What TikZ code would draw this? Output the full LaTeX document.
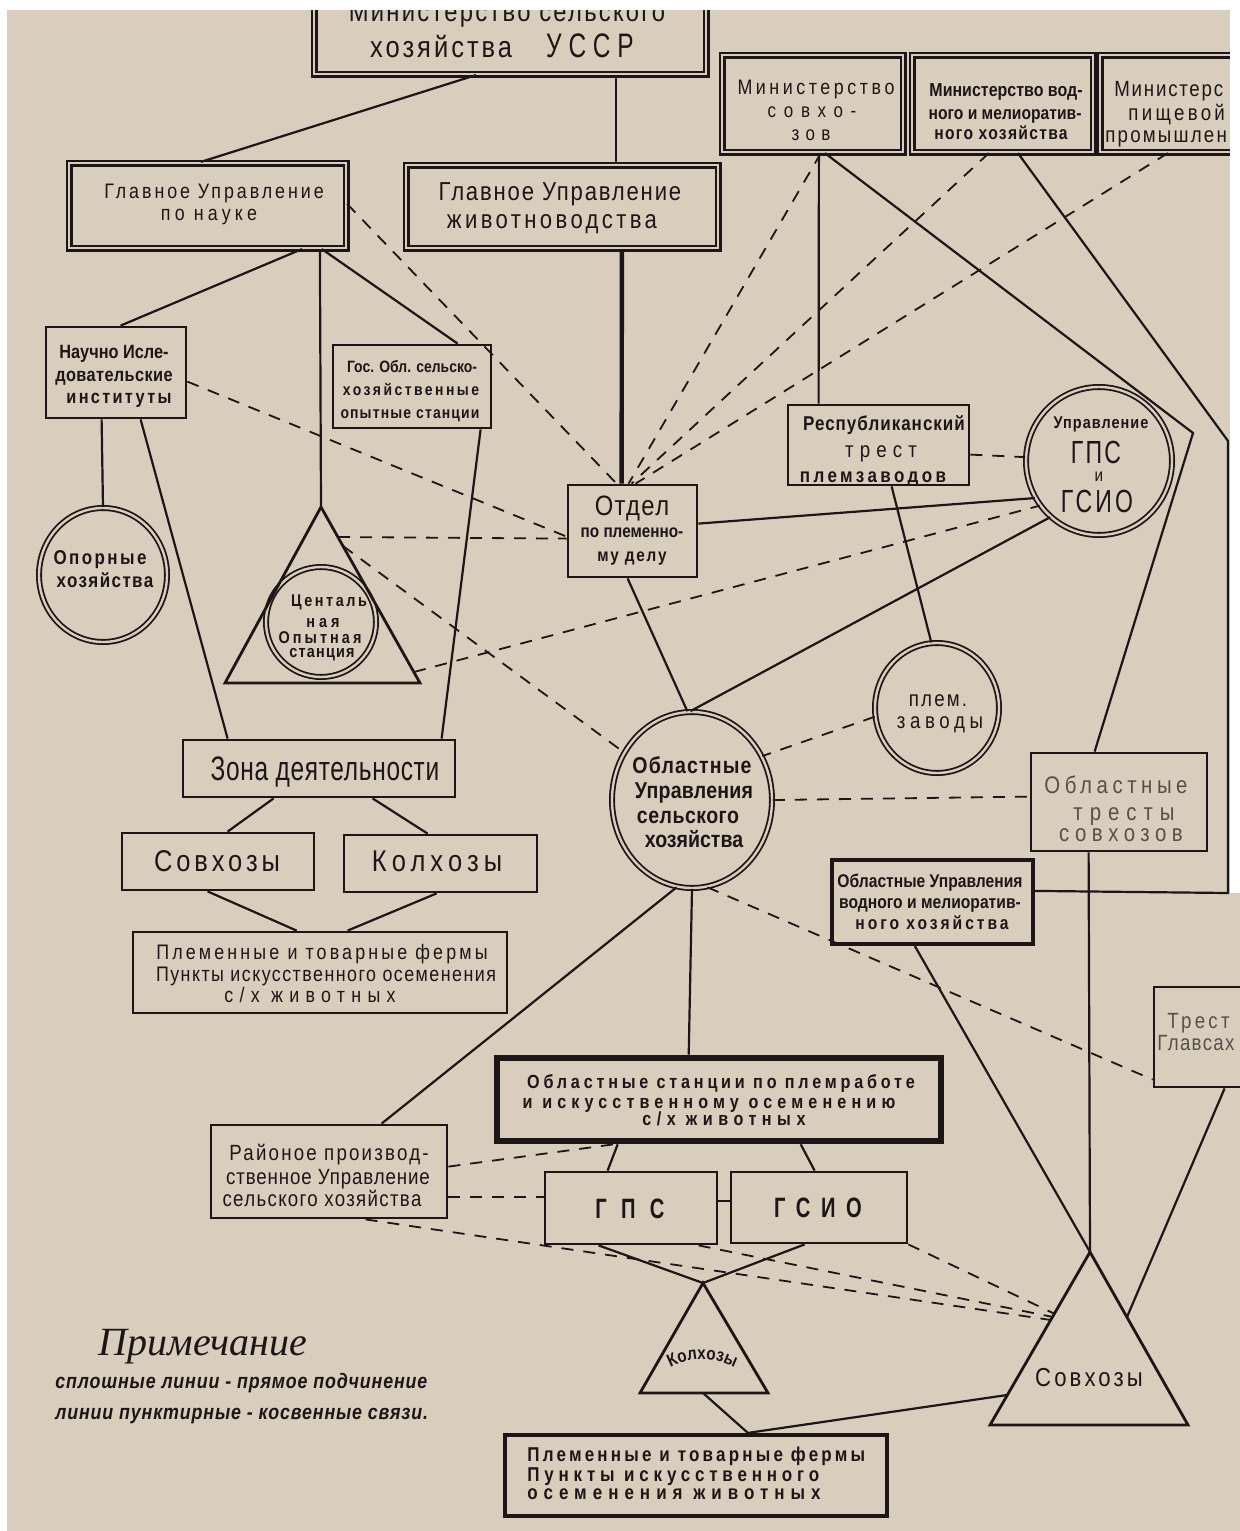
\documentclass[tikz,border=0pt]{standalone}
\usepackage{fontspec}
\setmainfont{Liberation Sans}[FakeStretch=0.85]
\newfontfamily\condf{Liberation Sans}[FakeStretch=0.72]
\newfontfamily\notefont{Liberation Serif}
\usetikzlibrary{shapes.geometric,decorations.text,calc}
\definecolor{bg}{HTML}{D9CDBE}
\definecolor{ink}{HTML}{1E1616}
\definecolor{greyink}{HTML}{55504B}
\newcommand\fsz[1]{\fontsize{#1}{#1}\selectfont}
\newcommand\lsp[1]{\addfontfeatures{LetterSpace=#1}}
\newcommand\mkbox[6][plainbox]{\node[#1, minimum width={(#5-#3)*0.5pt}, minimum height={(#6-#4)*0.5pt}] (#2) at ({(#3+#5)/2},{(#4+#6)/2}) {};}
\newcommand\mkell[5]{\node[dell, minimum width={#4*1pt}, minimum height={#5*1pt}] (#1) at (#2,#3) {};}
\newcommand\tl[4][]{\node[txt,anchor=base,#1] (#2) at (#3) {#4};}
\begin{document}
\begin{tikzpicture}[x=0.5pt,y=-0.5pt,
  plainbox/.style={draw=ink,line width=1.4pt,rectangle,inner sep=0pt},
  heavybox/.style={draw=ink,line width=3.3pt,rectangle,inner sep=0pt},
  midbox/.style={draw=ink,line width=2.1pt,rectangle,inner sep=0pt},
  dbox/.style={draw=ink,line width=1.1pt,double=bg,double distance=1.3pt,rectangle,inner sep=0pt},
  dell/.style={draw=ink,ellipse,line width=0.9pt,double=bg,double distance=1.2pt,inner sep=0pt},
  conn/.style={draw=ink,line width=1.1pt},
  thickconn/.style={draw=ink,line width=2.2pt},
  dsh/.style={draw=ink,line width=0.9pt,dash pattern=on 6pt off 5pt},
  tri/.style={draw=ink,line width=1.4pt,line join=miter},
  txt/.style={text=ink,align=center,inner sep=0pt},
  grey/.style={text=greyink}]
\useasboundingbox (0,0) rectangle (1240,1531);
\fill[bg] (0,0) rectangle (1240,1531);
\clip (0,0) rectangle (1240,1531);

% ---------- boxes ----------
\node[dbox, minimum width=196pt, minimum height=47pt] (minsh) at (510,27) {};
\mkbox[dbox]{guN}{69}{163}{346}{248}
\mkbox[dbox]{guZ}{406}{165}{718}{248}
\mkbox[dbox]{minS}{722}{55}{903}{152}
\mkbox[dbox]{minV}{912}{55}{1093}{152}
\mkbox[dbox]{minP}{1100}{55}{1270}{152}
\mkbox{nauch}{46}{327}{186}{418}
\mkbox{gos}{333}{345}{491}{428}
\mkbox{otd}{568}{485}{697}{577}
\mkbox{resp}{788}{405}{969}{485}
\mkbox{zona}{183}{740}{455}{797}
\mkbox{sovB}{122}{833}{314}{890}
\mkbox{kolB}{344}{835}{537}{892}
\mkbox{plemB}{133}{932}{507}{1013}
\mkbox{oblTr}{1031}{753}{1207}{851}
\mkbox[midbox]{oblV}{832}{860}{1033}{944}
\mkbox{trest}{1154}{987}{1280}{1087}
\mkbox[heavybox]{stan}{497}{1058}{941}{1141}
\mkbox{rai}{211}{1125}{447}{1218}
\mkbox{gps}{545}{1172}{717}{1244}
\mkbox{gsio}{731}{1172}{907}{1243}
\mkbox[midbox]{bot}{505}{1435}{887}{1516}

% ---------- ellipses ----------
\mkell{ugps}{1099}{461}{73}{74}
\mkell{opor}{103}{575}{64}{67}
\mkell{cent}{321}{622}{55}{55}
\mkell{plz}{937}{708}{62}{65}
\mkell{obl}{692}{800}{80}{88}

% ---------- triangles ----------
\coordinate (tCa) at (321,507); \coordinate (tCl) at (225,683); \coordinate (tCb) at (420,683);
\coordinate (tCr1) at (338,537); \coordinate (tCr2) at (343,546); \coordinate (tCr3) at (414,672);
\draw[tri] (tCa) -- (tCl) -- (tCb) -- cycle;
\coordinate (tKa) at (703,1283); \coordinate (tKl) at (640,1393); \coordinate (tKb) at (768,1393);
\coordinate (tKm) at (703,1393);
\draw[tri] (tKa) -- (tKl) -- (tKb) -- cycle;
\coordinate (tSa) at (1090,1252); \coordinate (tSl) at (990,1425); \coordinate (tSb) at (1188,1425);
\coordinate (tSj) at (1007,1395); \coordinate (tSr) at (1127,1317);
\coordinate (tSd1) at (1051,1320); \coordinate (tSd2) at (1053,1317); \coordinate (tSd3) at (1055,1314);
\draw[tri] (tSa) -- (tSl) -- (tSb) -- cycle;
\coordinate (cA) at (1193,433); \coordinate (cB) at (1228,441); \coordinate (cC) at (1228,893);

% ---------- solid connectors ----------
\draw[conn] ($(minsh.south west)+(163,0)$) -- ($(guN.north west)+(133,0)$);
\draw[conn] ($(minsh.south west)+(303,0)$) -- ($(guZ.north west)+(211,0)$);
\draw[conn] ($(guN.south west)+(234,0)$) -- ($(nauch.north west)+(76,0)$);
\draw[conn] ($(guN.south west)+(252,0)$) -- (tCa);
\draw[conn] ($(guN.south west)+(254,0)$) -- ($(gos.north west)+(126,0)$);
\draw[thickconn] ($(guZ.south west)+(217,0)$) -- ($(otd.north west)+(55,0)$);
\draw[conn] ($(nauch.south west)+(57,0)$) -- (opor.north);
\draw[conn] ($(nauch.south west)+(96,0)$) -- ($(zona.north west)+(46,0)$);
\draw[conn] ($(gos.south west)+(149,0)$) -- ($(zona.north west)+(260,0)$);
\draw[conn] ($(zona.south west)+(92,0)$) -- ($(sovB.north west)+(107,0)$);
\draw[conn] ($(zona.south west)+(191,0)$) -- ($(kolB.north west)+(85,0)$);
\draw[conn] ($(sovB.south west)+(87,0)$) -- ($(plemB.north west)+(165,0)$);
\draw[conn] ($(kolB.south west)+(94,0)$) -- ($(plemB.north west)+(216,0)$);
\draw[conn] ($(minS.south west)+(104,0)$) -- (cA) -- ($(oblTr.north west)+(65,0)$);
\draw[conn] ($(minS.south west)+(98,0)$) -- ($(resp.north west)+(32,0)$);
\draw[conn] ($(minV.south west)+(107,0)$) -- (cB) -- (cC) -- ($(oblV.north east)+(0,33)$);
\draw[conn] ($(resp.south west)+(105,0)$) -- (plz.95);
\draw[conn] (ugps.210) -- ($(otd.north east)+(0,40)$);
\draw[conn] (ugps.229) -- (obl.91);
\draw[conn] ($(otd.south west)+(61,0)$) -- (obl.93);
\draw[conn] (obl.-100) -- ($(rai.north west)+(172,0)$);
\draw[conn] (obl.south) -- ($(stan.north west)+(195,0)$);
\draw[conn] ($(stan.south west)+(124,0)$) -- ($(gps.north west)+(64,0)$);
\draw[conn] ($(stan.south west)+(307,0)$) -- ($(gsio.north west)+(85,0)$);
\draw[conn] ($(gps.north east)+(0,30)$) -- ($(gsio.north west)+(0,30)$);
\draw[conn] ($(gps.south west)+(55,0)$) -- (tKa);
\draw[conn] ($(gsio.south west)+(75,0)$) -- (tKa);
\draw[conn] (tKm) -- ($(bot.north west)+(245,0)$) -- (tSj);
\draw[conn] ($(oblV.south west)+(85,0)$) -- (tSa);
\draw[conn] ($(oblTr.south west)+(59,0)$) -- (tSa);
\draw[conn] ($(trest.south west)+(72,0)$) -- (tSr);

% ---------- dashed connectors ----------
\draw[dsh] ($(guN.north east)+(0,42)$) -- ($(otd.north west)+(50,0)$);
\draw[dsh] ($(nauch.north east)+(0,56)$) -- ($(otd.north west)+(0,53)$);
\draw[dsh] (tCr1) -- ($(otd.north west)+(0,55)$);
\draw[dsh] (tCr2) -- (obl.145);
\draw[dsh] (tCr3) -- (ugps.217);
\draw[dsh] ($(resp.north east)+(0,51)$) -- (ugps.177);
\draw[dsh] (plz.188) -- (obl.32);
\draw[dsh] (obl.east) -- ($(oblTr.north west)+(0,45)$);
\draw[dsh] (obl.-80) -- ($(trest.north west)+(0,94)$);
\draw[dsh] ($(rai.north east)+(0,43)$) -- ($(stan.south west)+(120,0)$);
\draw[dsh] ($(rai.north east)+(0,73)$) -- ($(gps.north west)+(0,26)$);
\draw[dsh] ($(rai.south west)+(156,0)$) -- (tSd1);
\draw[dsh] ($(gps.south west)+(155,0)$) -- (tSd2);
\draw[dsh] (gsio.south east) -- (tSd3);
\draw[dsh] ($(minS.south west)+(100,0)$) -- ($(otd.north west)+(62,0)$);
\draw[dsh] ($(minV.south west)+(78,0)$) -- ($(otd.north west)+(65,0)$);
\draw[dsh] ($(minP.south west)+(69,0)$) -- ($(otd.north west)+(69,0)$);

% ---------- texts (one node per printed line, anchored at its baseline) ----------
\tl[font=\fsz{14}\lsp{8}]{minshA}{507,21}{Министерство сельского}
\tl[font=\fsz{15}]{minshB}{502,57}{{\lsp{10}хозяйства}\hspace{17pt}{\condf\fsz{17}\lsp{20}УССР}}
\tl[font=\fsz{10.5}\lsp{14}]{guNA}{214,198}{Главное Управление}
\tl[font=\fsz{10.5}\lsp{20}]{guNB}{209,220}{по науке}
\tl[font=\fsz{13}\lsp{7}]{guZA}{560,200}{Главное Управление}
\tl[font=\fsz{13}\lsp{13}]{guZB}{552,228}{животноводства}
\tl[font=\fsz{10.5}\lsp{17}]{minSA}{816,94}{Министерство}
\tl[font=\fsz{10}\lsp{38}]{minSB}{812,117}{совхо-}
\tl[font=\fsz{10}\lsp{32}]{minSC}{811,140}{зов}
\tl[font=\bfseries\fsz{9.4}]{minVA}{1006,96}{Министерство вод-}
\tl[font=\bfseries\fsz{9.2}]{minVB}{1005,119}{ного и мелиоратив-}
\tl[font=\bfseries\fsz{9.2}\lsp{7}]{minVC}{1001,139}{ного хозяйства}
\tl[anchor=base west,font=\fsz{11}\lsp{8}]{minPA}{1114,96}{Министерс}
\tl[anchor=base west,font=\fsz{11}\lsp{15}]{minPB}{1128,120}{пищевой}
\tl[anchor=base west,font=\fsz{11}\lsp{10}]{minPC}{1105,142}{промышлен}
\tl[font=\bfseries\fsz{9.6}]{nauchA}{114,358}{Научно Исле-}
\tl[font=\bfseries\fsz{9.6}\lsp{2}]{nauchB}{114,381}{довательские}
\tl[font=\bfseries\fsz{9.6}\lsp{12}]{nauchC}{119,403}{институты}
\tl[font=\bfseries\fsz{8.2}]{gosA}{412,372}{Гос. Обл. сельско-}
\tl[font=\bfseries\fsz{8.2}\lsp{15}]{gosB}{411,395}{хозяйственные}
\tl[font=\bfseries\fsz{8.2}\lsp{7}]{gosC}{410,418}{опытные станции}
\tl[font=\fsz{14}\lsp{5}]{otdA}{632,515}{Отдел}
\tl[font=\bfseries\fsz{9}]{otdB}{632,537}{по племенно-}
\tl[font=\bfseries\fsz{9}\lsp{10}]{otdC}{632,561}{му делу}
\tl[font=\bfseries\fsz{10}\lsp{5}]{respA}{884,430}{Республиканский}
\tl[font=\fsz{11}\lsp{28}]{respB}{881,457}{трест}
\tl[font=\bfseries\fsz{10}\lsp{17}]{respC}{873,482}{племзаводов}
\tl[font=\bfseries\fsz{8.5}\lsp{6}]{ugpsA}{1101,428}{Управление}
\tl[font=\condf\fsz{16}\lsp{7}]{ugpsB}{1096,463}{ГПС}
\tl[font=\fsz{9}]{ugpsC}{1099,481}{и}
\tl[font=\condf\fsz{16}\lsp{10}]{ugpsD}{1097,512}{ГСИО}
\tl[font=\bfseries\fsz{10}\lsp{12}]{oporA}{100,564}{Опорные}
\tl[font=\bfseries\fsz{10}\lsp{7}]{oporB}{105,587}{хозяйства}
\tl[font=\bfseries\fsz{8.5}\lsp{15}]{centA}{329,606}{Центаль}
\tl[font=\bfseries\fsz{8.5}\lsp{23}]{centB}{323,627}{ная}
\tl[font=\bfseries\fsz{8.5}\lsp{18}]{centC}{320,643}{Опытная}
\tl[font=\bfseries\fsz{8.5}\lsp{7}]{centD}{322,657}{станция}
\tl[font=\fsz{11}\lsp{10}]{plzA}{938,706}{плем.}
\tl[font=\fsz{11}\lsp{21}]{plzB}{940,728}{заводы}
\tl[font=\bfseries\fsz{11.5}\lsp{5}]{oblA}{692,773}{Областные}
\tl[font=\bfseries\fsz{11.5}\lsp{1}]{oblB}{694,798}{Управления}
\tl[font=\bfseries\fsz{11.5}\lsp{2}]{oblC}{688,823}{сельского}
\tl[font=\bfseries\fsz{11.5}]{oblD}{694,847}{хозяйства}
\tl[font=\condf\fsz{17}\lsp{2}]{zonaT}{325,780}{Зона деятельности}
\tl[font=\fsz{15}\lsp{13}]{sovT}{217,871}{Совхозы}
\tl[font=\fsz{15}\lsp{17}]{kolT}{437,871}{Колхозы}
\tl[font=\fsz{10.5}\lsp{15}]{plemA}{322,959}{Племенные и товарные фермы}
\tl[font=\fsz{10.5}\lsp{7}]{plemB2}{326,981}{Пункты искусственного осеменения}
\tl[font=\fsz{10.5}\lsp{30}]{plemC}{310,1002}{с/х животных}
\tl[grey,font=\fsz{12}\lsp{19}]{oblTrA}{1116,793}{Областные}
\tl[grey,font=\fsz{12}\lsp{29}]{oblTrB}{1124,820}{тресты}
\tl[grey,font=\fsz{12}\lsp{23}]{oblTrC}{1121,841}{совхозов}
\tl[font=\bfseries\fsz{9.2}]{oblVA}{930,887}{Областные Управления}
\tl[font=\bfseries\fsz{9.2}]{oblVB}{930,908}{водного и мелиоратив-}
\tl[font=\bfseries\fsz{9.2}\lsp{16}]{oblVC}{932,929}{ного хозяйства}
\tl[grey,anchor=base west,font=\fsz{11}\lsp{15}]{trestA}{1167,1028}{Трест}
\tl[grey,anchor=base west,font=\fsz{11}\lsp{6}]{trestB}{1157,1050}{Главсах}
\tl[font=\bfseries\fsz{9.5}\lsp{20}]{stanA}{721,1088}{Областные станции по племработе}
\tl[font=\bfseries\fsz{9.5}\lsp{27}]{stanB}{709,1108}{и искусственному осеменению}
\tl[font=\bfseries\fsz{9.5}\lsp{29}]{stanC}{724,1125}{с/х животных}
\tl[font=\fsz{11}\lsp{10}]{raiA}{329,1160}{Районое производ-}
\tl[font=\fsz{11}\lsp{4}]{raiB}{328,1184}{ственное Управление}
\tl[font=\fsz{11}\lsp{6}]{raiC}{322,1206}{сельского хозяйства}
\tl[font=\bfseries\condf\fsz{14}\lsp{51}]{gpsT}{630,1218}{ГПС}
\tl[font=\bfseries\condf\fsz{14}\lsp{38}]{gsioT}{818,1217}{ГСИО}
\path[decorate, decoration={text along path, text color=ink, text={|\bfseries\fsz{9}\lsp{35}|Колхозы}, text align=center}] (650,1388) .. controls (670,1350) and (735,1350) .. (755,1388);
\tl[font=\fsz{13}\lsp{12}]{tST}{1089,1386}{Совхозы}
\tl[anchor=base west,font=\bfseries\fsz{10}\lsp{16}]{botA}{527,1461}{Племенные и товарные фермы}
\tl[anchor=base west,font=\bfseries\fsz{10}\lsp{24}]{botB}{527,1481}{Пункты искусственного}
\tl[anchor=base west,font=\bfseries\fsz{10}\lsp{30}]{botC}{527,1499}{осеменения животных}
\tl[font=\notefont\itshape\fsz{20}]{noteT}{203,1355}{Примечание}
\tl[anchor=base west,font=\bfseries\itshape\fsz{10.5}\lsp{4}]{leg1}{55,1388}{сплошные линии - прямое подчинение}
\tl[anchor=base west,font=\bfseries\itshape\fsz{10.5}\lsp{4}]{leg2}{55,1419}{линии пунктирные - косвенные связи.}

% ---------- scan margins ----------
\fill[white] (0,0) rectangle (1240,10);
\fill[white] (0,0) rectangle (7,1531);
\fill[white] (1230,0) rectangle (1240,893);
\end{tikzpicture}
\end{document}
